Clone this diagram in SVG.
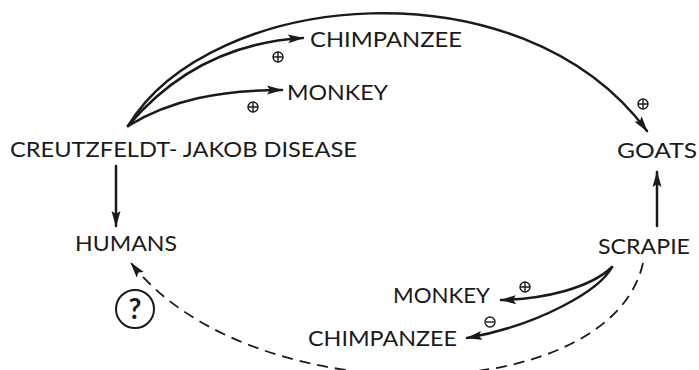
<svg xmlns="http://www.w3.org/2000/svg" width="699" height="370" viewBox="0 0 699 370">
<style>
text{font-family:Lato,"Open Sans","Liberation Sans",sans-serif;font-size:22px;fill:#1a1a1a}
.ln{fill:none;stroke:#1a1a1a;stroke-width:2.5;stroke-linecap:round}
.ds{fill:none;stroke:#1a1a1a;stroke-width:1.8;stroke-dasharray:11 7}
.sg{fill:none;stroke:#1a1a1a;stroke-width:1.4}
</style>
<defs>
<marker id="ah" markerUnits="userSpaceOnUse" markerWidth="16" markerHeight="10" viewBox="0 0 16 10" refX="15" refY="5" orient="auto">
<path d="M0,0.5 L16,5 L0,9.5 L3,5 Z" fill="#1a1a1a"/>
</marker>
<g id="plus"><circle r="5" class="sg"/><path d="M-5,0H5M0,-5V5" class="sg"/></g>
<g id="minus"><circle r="5" class="sg"/><path d="M-4,0H4" class="sg"/></g>
</defs>
<rect width="699" height="370" fill="#ffffff"/>
<g id="connectors">
<path class="ln" d="M128,126 C210,-10 520,-40 647,131" marker-end="url(#ah)"/>
<path class="ln" d="M128,126 C175,70 235,42 303,38" marker-end="url(#ah)"/>
<path class="ln" d="M128,126 C170,100 220,90 282,90" marker-end="url(#ah)"/>
<path class="ln" d="M116,166 L116,226" marker-end="url(#ah)"/>
<path class="ln" d="M657,226 L657,172" marker-end="url(#ah)"/>
<path class="ln" d="M612,267 C590,288 545,299 501,300" marker-end="url(#ah)"/>
<path class="ln" d="M612,267 C600,290 540,325 467,338" marker-end="url(#ah)"/>
<path class="ds" d="M643,263 C610,410 250,415 131,263" marker-end="url(#ah)"/>
<use href="#plus" x="278" y="57"/>
<use href="#plus" x="253" y="107"/>
<use href="#plus" x="643" y="104"/>
<use href="#plus" x="525" y="287"/>
<use href="#minus" x="490" y="322"/>
</g>
<g id="cjd"><text x="10" y="157" textLength="347" lengthAdjust="spacingAndGlyphs">CREUTZFELDT- JAKOB DISEASE</text></g>
<g id="chimp1"><text x="310" y="47" textLength="152" lengthAdjust="spacingAndGlyphs">CHIMPANZEE</text></g>
<g id="monkey1"><text x="287" y="100" textLength="101" lengthAdjust="spacingAndGlyphs">MONKEY</text></g>
<g id="goats"><text x="617" y="158" textLength="80" lengthAdjust="spacingAndGlyphs">GOATS</text></g>
<g id="humans"><text x="75" y="251" textLength="102" lengthAdjust="spacingAndGlyphs">HUMANS</text></g>
<g id="scrapie"><text x="598" y="254" textLength="92" lengthAdjust="spacingAndGlyphs">SCRAPIE</text></g>
<g id="monkey2"><text x="393" y="303" textLength="97" lengthAdjust="spacingAndGlyphs">MONKEY</text></g>
<g id="chimp2"><text x="308" y="346" textLength="149" lengthAdjust="spacingAndGlyphs">CHIMPANZEE</text></g>
<g id="question"><circle cx="135" cy="309" r="19" fill="none" stroke="#1a1a1a" stroke-width="2"/><text x="135" y="319" text-anchor="middle" style="font-size:28px;font-weight:bold">?</text></g>
</svg>
